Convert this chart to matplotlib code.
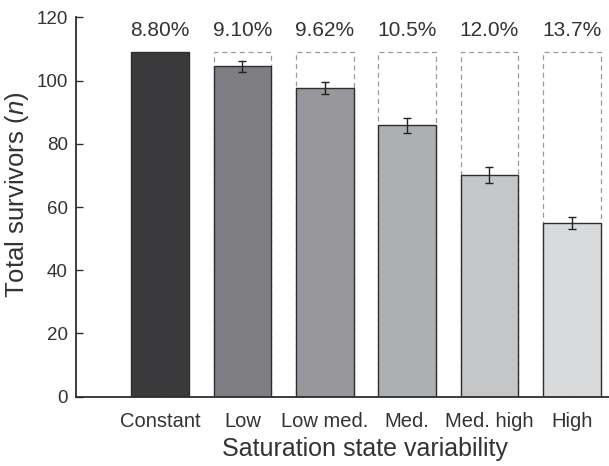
import matplotlib
matplotlib.use("Agg")
import matplotlib.pyplot as plt
import numpy as np

plt.rcParams['font.family'] = ['Liberation Sans', 'DejaVu Sans']
plt.rcParams['mathtext.fontset'] = 'custom'
plt.rcParams['mathtext.it'] = 'Liberation Sans:italic'
plt.rcParams['mathtext.rm'] = 'Liberation Sans'

# survivors per variability treatment
categories = ['Constant', 'Low', 'Low med.', 'Med.', 'Med. high', 'High']
survivors = [109, 104.5, 97.7, 85.8, 70.2, 54.8]
errors = [0, 1.7, 2.0, 2.4, 2.6, 1.9]
constant_level = 109
pct_labels = ['8.80%', '9.10%', '9.62%', '10.5%', '12.0%', '13.7%']
bar_colors = ['#3a393c', '#7e7d82', '#98979c', '#aeafb2', '#c4c6c8', '#d9dadc']

txt = '#333333'

fig = plt.figure(figsize=(6.09, 4.66), dpi=100)
ax = fig.add_axes([0.1248, 0.1487, 0.875, 0.814])

x = np.arange(1, len(categories) + 1)

# dashed outline of the constant treatment level behind each variable bar
ax.bar(x[1:], [constant_level] * (len(x) - 1), width=0.7, fill=False,
       edgecolor='#9a9a9a', linestyle=(0, (4, 3)), linewidth=0.9, zorder=1)

ax.bar(x, survivors, width=0.7, color=bar_colors, edgecolor='#2e2e2e',
       linewidth=1.0, zorder=2)
ax.errorbar(x[1:], survivors[1:], yerr=errors[1:], fmt='none', ecolor='#222222',
            elinewidth=1.0, capsize=3, capthick=1.0, zorder=3)

for xi, lab in zip(x, pct_labels):
    ax.text(xi, 115.8, lab, ha='center', va='center', fontsize=15, color=txt)

ax.set_xlim(-0.02, 6.45)
ax.set_ylim(0, 120)
ax.set_yticks(np.arange(0, 121, 20))
ax.set_xticks(x)
ax.set_xticklabels(categories)

ax.spines['top'].set_visible(False)
ax.spines['right'].set_visible(False)
for s in ['left', 'bottom']:
    ax.spines[s].set_color('#2e2e2e')
    ax.spines[s].set_linewidth(1.3)

ax.tick_params(axis='y', direction='in', length=5, width=1, colors='#2e2e2e',
               labelsize=13.5, labelcolor=txt, pad=6)
ax.tick_params(axis='x', direction='in', length=4, width=0.8, colors='#666666',
               labelsize=14.5, labelcolor=txt, pad=11)

ax.set_ylabel('Total survivors ($\\mathit{n}$)', fontsize=18.5, color=txt)
ax.set_xlabel('Saturation state variability', fontsize=18, color=txt)
ax.yaxis.set_label_coords(-0.085, 0.532)
ax.xaxis.set_label_coords(0.542, -0.106)

fig.savefig('out.png', dpi=100)
